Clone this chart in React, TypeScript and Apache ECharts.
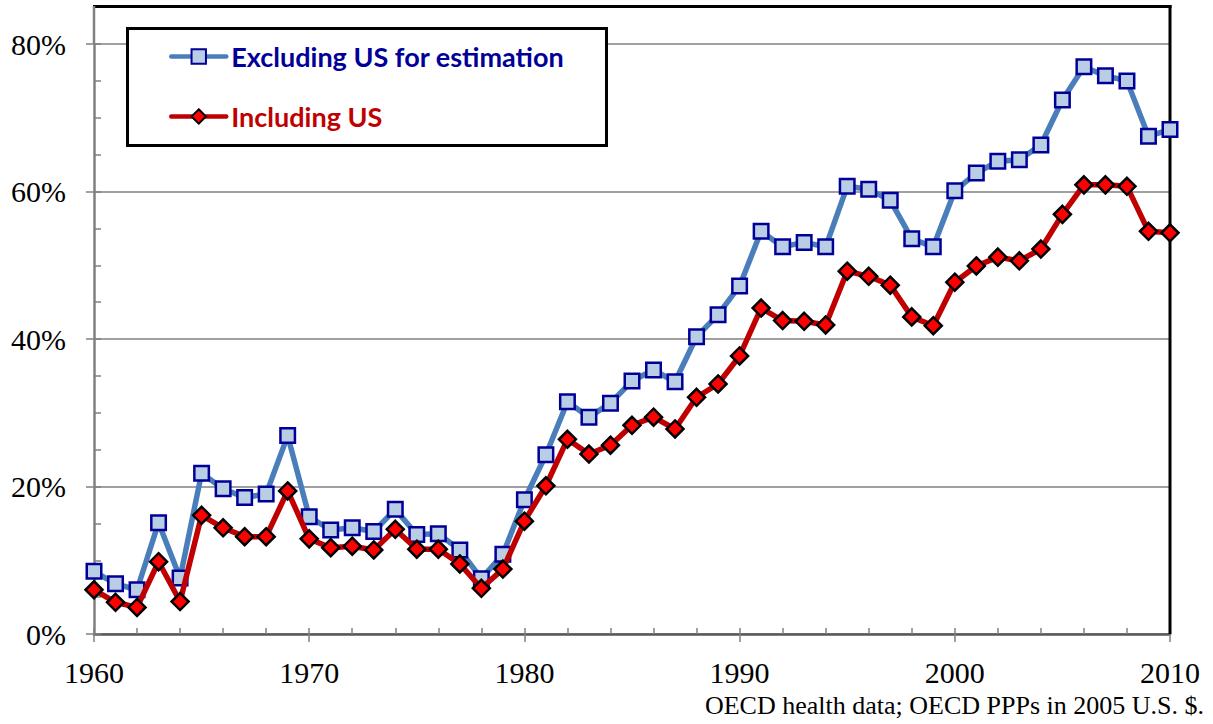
import React, { useEffect, useRef } from "react";
import * as echarts from "echarts";

const years = [
  1960, 1961, 1962, 1963, 1964, 1965, 1966, 1967, 1968, 1969,
  1970, 1971, 1972, 1973, 1974, 1975, 1976, 1977, 1978, 1979,
  1980, 1981, 1982, 1983, 1984, 1985, 1986, 1987, 1988, 1989,
  1990, 1991, 1992, 1993, 1994, 1995, 1996, 1997, 1998, 1999,
  2000, 2001, 2002, 2003, 2004, 2005, 2006, 2007, 2008, 2009,
  2010,
];

const excludingUS = [
  8.5, 6.8, 6.0, 15.1, 7.6, 21.8, 19.7, 18.5, 19.0, 26.9,
  15.9, 14.1, 14.4, 13.9, 16.9, 13.5, 13.6, 11.4, 7.5, 10.8,
  18.2, 24.3, 31.5, 29.4, 31.3, 34.3, 35.8, 34.2, 40.3, 43.3,
  47.2, 54.6, 52.5, 53.1, 52.5, 60.7, 60.3, 58.8, 53.6, 52.5,
  60.1, 62.5, 64.1, 64.3, 66.3, 72.4, 76.9, 75.7, 75.0, 67.5,
  68.4,
];

const includingUS = [
  6.0, 4.3, 3.6, 9.8, 4.4, 16.1, 14.4, 13.2, 13.2, 19.4,
  12.9, 11.7, 11.9, 11.4, 14.2, 11.5, 11.5, 9.5, 6.2, 8.8,
  15.3, 20.1, 26.4, 24.4, 25.6, 28.3, 29.4, 27.8, 32.1, 33.9,
  37.7, 44.2, 42.5, 42.4, 41.9, 49.2, 48.5, 47.3, 43.0, 41.8,
  47.7, 49.9, 51.1, 50.6, 52.2, 56.9, 60.9, 60.9, 60.7, 54.6,
  54.4,
];

const seriesNames = ["Excluding US for estimation", "Including US"];
const footnote = "OECD health data; OECD PPPs in 2005 U.S. $.";

export default function App() {
  const ref = useRef<HTMLDivElement>(null);

  useEffect(() => {
    document.body.style.margin = "0";
    const chart = echarts.init(ref.current as HTMLDivElement, null, { renderer: "svg" });
    const serif = "'Liberation Serif', 'Times New Roman', serif";
    const tickStyle = { color: "#808080", width: 1.5 };

    chart.setOption({
      animation: false,
      backgroundColor: "#ffffff",
      grid: { left: 94, right: 43, top: 44, bottom: 90, containLabel: false },
      xAxis: [
        {
          type: "value",
          min: 1960,
          max: 2010,
          interval: 10,
          position: "bottom",
          axisLine: { lineStyle: { color: "#595959", width: 2.5 } },
          axisTick: { length: 8, lineStyle: tickStyle },
          axisLabel: {
            formatter: (v: number) => String(v),
            fontFamily: serif,
            fontSize: 30,
            color: "#000",
            margin: 23,
          },
          splitLine: { show: false },
        },
        {
          type: "value",
          min: 1960,
          max: 2010,
          interval: 2,
          position: "bottom",
          axisLine: { show: false },
          axisTick: { inside: true, length: 6, lineStyle: tickStyle },
          axisLabel: { show: false },
          splitLine: { show: false },
        },
      ],
      yAxis: [
        {
          type: "value",
          min: 0,
          max: 80,
          interval: 20,
          position: "left",
          axisLine: { show: true, lineStyle: { color: "#808080", width: 2.5 } },
          axisTick: { show: true, length: 8, lineStyle: tickStyle },
          axisLabel: {
            formatter: (v: number) => v + "%",
            fontFamily: serif,
            fontSize: 30,
            color: "#000",
            margin: 28,
          },
          splitLine: { show: true, lineStyle: { color: "#A0A0A0", width: 2 } },
        },
        {
          type: "value",
          min: 0,
          max: 80,
          interval: 5,
          position: "left",
          axisLine: { show: false },
          axisTick: { show: true, inside: true, length: 7, lineStyle: tickStyle },
          axisLabel: { show: false },
          splitLine: { show: false },
        },
      ],
      legend: {
        orient: "vertical",
        left: 169,
        top: 43,
        padding: 0,
        itemWidth: 55,
        itemHeight: 18,
        itemGap: 33,
        selectedMode: false,
        textStyle: { fontFamily: "Lato", fontWeight: "bold", fontSize: 27 },
        data: [
          {
            name: seriesNames[0],
            textStyle: { color: "#000099" },
            lineStyle: { width: 4.5, cap: "round", color: "#4A7EBB" },
          },
          {
            name: seriesNames[1],
            textStyle: { color: "#C00000" },
            lineStyle: { width: 4.5, cap: "round", color: "#C00000" },
          },
        ],
      },
      graphic: [
        {
          type: "rect",
          z: 1,
          shape: { x: 127.5, y: 28.5, width: 479, height: 117 },
          style: { fill: "#fff", stroke: "#000", lineWidth: 3 },
        },
        {
          type: "line",
          z: 1,
          shape: { x1: 93, y1: 6.5, x2: 1171.5, y2: 6.5 },
          style: { stroke: "#000", lineWidth: 3 },
        },
        {
          type: "line",
          z: 1,
          shape: { x1: 1170, y1: 5, x2: 1170, y2: 634 },
          style: { stroke: "#000", lineWidth: 3 },
        },
        {
          type: "line",
          z: 1,
          shape: { x1: 94, y1: 6, x2: 94, y2: 44 },
          style: { stroke: "#808080", lineWidth: 2.5 },
        },
        {
          type: "text",
          z: 1,
          x: 1204,
          y: 705,
          style: {
            text: footnote,
            fill: "#000",
            fontFamily: serif,
            fontSize: 26,
            align: "right",
            verticalAlign: "middle",
          },
        },
      ],
      series: [
        {
          name: seriesNames[0],
          type: "line",
          xAxisIndex: 0,
          yAxisIndex: 0,
          data: years.map((y, i) => [y, excludingUS[i]]),
          symbol: "rect",
          symbolSize: 14.5,
          clip: false,
          lineStyle: { color: "#4A7EBB", width: 5.5 },
          itemStyle: { color: "#B9CDE5", borderColor: "#000099", borderWidth: 2.5 },
          z: 3,
        },
        {
          name: seriesNames[1],
          type: "line",
          xAxisIndex: 0,
          yAxisIndex: 0,
          data: years.map((y, i) => [y, includingUS[i]]),
          symbol: "diamond",
          symbolSize: 17,
          clip: false,
          lineStyle: { color: "#C00000", width: 5.5 },
          itemStyle: { color: "#FF0000", borderColor: "#000", borderWidth: 2.5 },
          z: 4,
        },
      ],
    });

    return () => {
      chart.dispose();
    };
  }, []);

  return <div ref={ref} style={{ width: 1213, height: 724 }} />;
}
